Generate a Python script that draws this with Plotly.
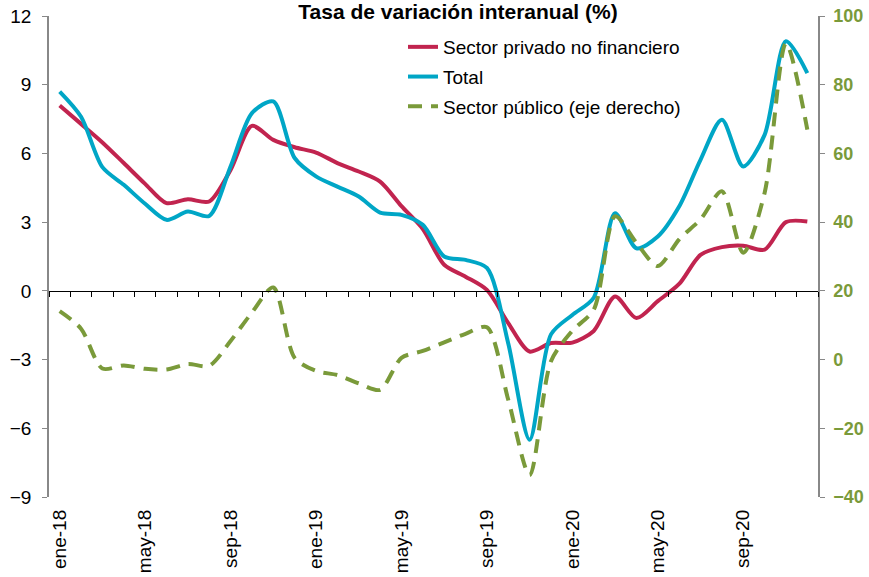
import plotly.graph_objects as go

meses = ["ene", "feb", "mar", "abr", "may", "jun", "jul", "ago", "sep", "oct", "nov", "dic"]
months = [f"{m}-{y}" for y in ["18", "19", "20"] for m in meses]

privado = [8.09, 7.29, 6.48, 5.58, 4.67, 3.83, 4.0, 3.9, 5.28, 7.2, 6.59, 6.27,
           6.04, 5.58, 5.21, 4.77, 3.7, 2.7, 1.14, 0.62, 0.04, -1.41, -2.65, -2.28,
           -2.26, -1.75, -0.25, -1.19, -0.45, 0.3, 1.57, 1.91, 1.97, 1.8, 3.0, 3.03]

total = [8.7, 7.6, 5.4, 4.63, 3.8, 3.1, 3.46, 3.27, 5.43, 7.76, 8.27, 5.8,
         5.0, 4.55, 4.12, 3.42, 3.32, 2.88, 1.5, 1.35, 1.0, -2.3, -6.5, -1.9,
         -1.05, -0.3, 3.39, 1.86, 2.37, 3.68, 5.72, 7.47, 5.43, 6.81, 10.9, 9.51]

publico = [14.1, 9.0, -2.6, -1.7, -2.7, -2.9, -1.3, -1.8, 5.4, 13.7, 21.0, 0.5,
           -3.3, -4.5, -6.9, -8.8, 0.5, 2.5, 5.0, 7.5, 9.4, -11.7, -33.6, -0.5,
           8.4, 14.5, 41.7, 34.0, 27.2, 35.0, 40.8, 49.0, 31.1, 48.5, 92.0, 66.9]

left_ticks = [-9, -6, -3, 0, 3, 6, 9, 12]
right_ticks = [-40, -20, 0, 20, 40, 60, 80, 100]

RED = "#C1244F"
CYAN = "#00A6C6"
GREEN = "#7A9A3A"
GREY = "#888888"
FONT = "Liberation Sans, Arial, sans-serif"

fig = go.Figure()
fig.add_trace(go.Scatter(x=months, y=privado, name="Sector privado no financiero",
                         mode="lines", line=dict(color=RED, width=4, shape="spline", smoothing=0.8),
                         legendgroup="a"))
fig.add_trace(go.Scatter(x=months, y=total, name="Total",
                         mode="lines", line=dict(color=CYAN, width=4, shape="spline", smoothing=0.8),
                         legendgroup="b"))
fig.add_trace(go.Scatter(x=months, y=publico, name="Sector público (eje derecho)",
                         mode="lines", yaxis="y2",
                         line=dict(color=GREEN, width=4, shape="spline", smoothing=0.8, dash="14px,9px"),
                         legendgroup="c"))
# helper trace for the zero-line axis
fig.add_trace(go.Scatter(x=months, y=[None] * len(months), xaxis="x2", showlegend=False,
                         hoverinfo="skip", mode="lines"))

zero_pos = (0 - left_ticks[0]) / (left_ticks[-1] - left_ticks[0])

fig.update_layout(
    width=869, height=577,
    margin=dict(l=49, r=51, t=16, b=80, autoexpand=False),
    plot_bgcolor="white", paper_bgcolor="white",
    font=dict(family=FONT, size=19, color="black"),
    title=dict(text="<b>Tasa de variación interanual (%)</b>", x=458 / 869, xanchor="center",
               xref="container", yref="container", y=1.0, yanchor="top", pad=dict(t=4, b=0),
               font=dict(size=21, family=FONT, color="black")),
    showlegend=True,
    legend=dict(x=(403 - 49) / 769, xanchor="left", y=(481 - 12) / 481, yanchor="top",
                bgcolor="rgba(0,0,0,0)", font=dict(size=19, family=FONT),
                traceorder="grouped", tracegroupgap=2),
    xaxis=dict(type="category", categoryorder="array", categoryarray=months,
               range=[-0.5, len(months) - 0.5], tickmode="array",
               tickvals=months[::4], ticktext=months[::4], tickangle=-90,
               showline=False, ticks="", showgrid=False, zeroline=False, automargin=False,
               ticklabelstandoff=8, tickfont=dict(size=19)),
    xaxis2=dict(type="category", matches="x", overlaying="x", anchor="free", position=zero_pos,
                showline=True, linecolor="black", linewidth=1, ticks="outside",
                tickson="boundaries", ticklen=5, tickcolor="black", tickwidth=1, automargin=False,
                showticklabels=False, showgrid=False, zeroline=False, dtick=1),
    yaxis=dict(range=[left_ticks[0], left_ticks[-1]], tickvals=left_ticks,
               showline=True, linecolor=GREY, linewidth=1.5, ticks="outside", ticklen=5,
               tickcolor=GREY, showgrid=False, zeroline=False, ticklabelstandoff=7, automargin=False,
               ticklabeloverflow="allow", tickfont=dict(size=19, color="black")),
    yaxis2=dict(range=[right_ticks[0], right_ticks[-1]], tickvals=right_ticks,
                overlaying="y", side="right", showline=True, linecolor=GREY, linewidth=1.5,
                ticks="outside", ticklen=5, tickcolor=GREY, showgrid=False, zeroline=False,
                ticklabelstandoff=5, automargin=False, ticklabeloverflow="allow",
                tickfont=dict(size=18, color=GREEN, family=FONT, weight="bold")),
)

fig.write_html("out.html", config={"displayModeBar": False},
               post_script="document.body.style.margin='0';")
